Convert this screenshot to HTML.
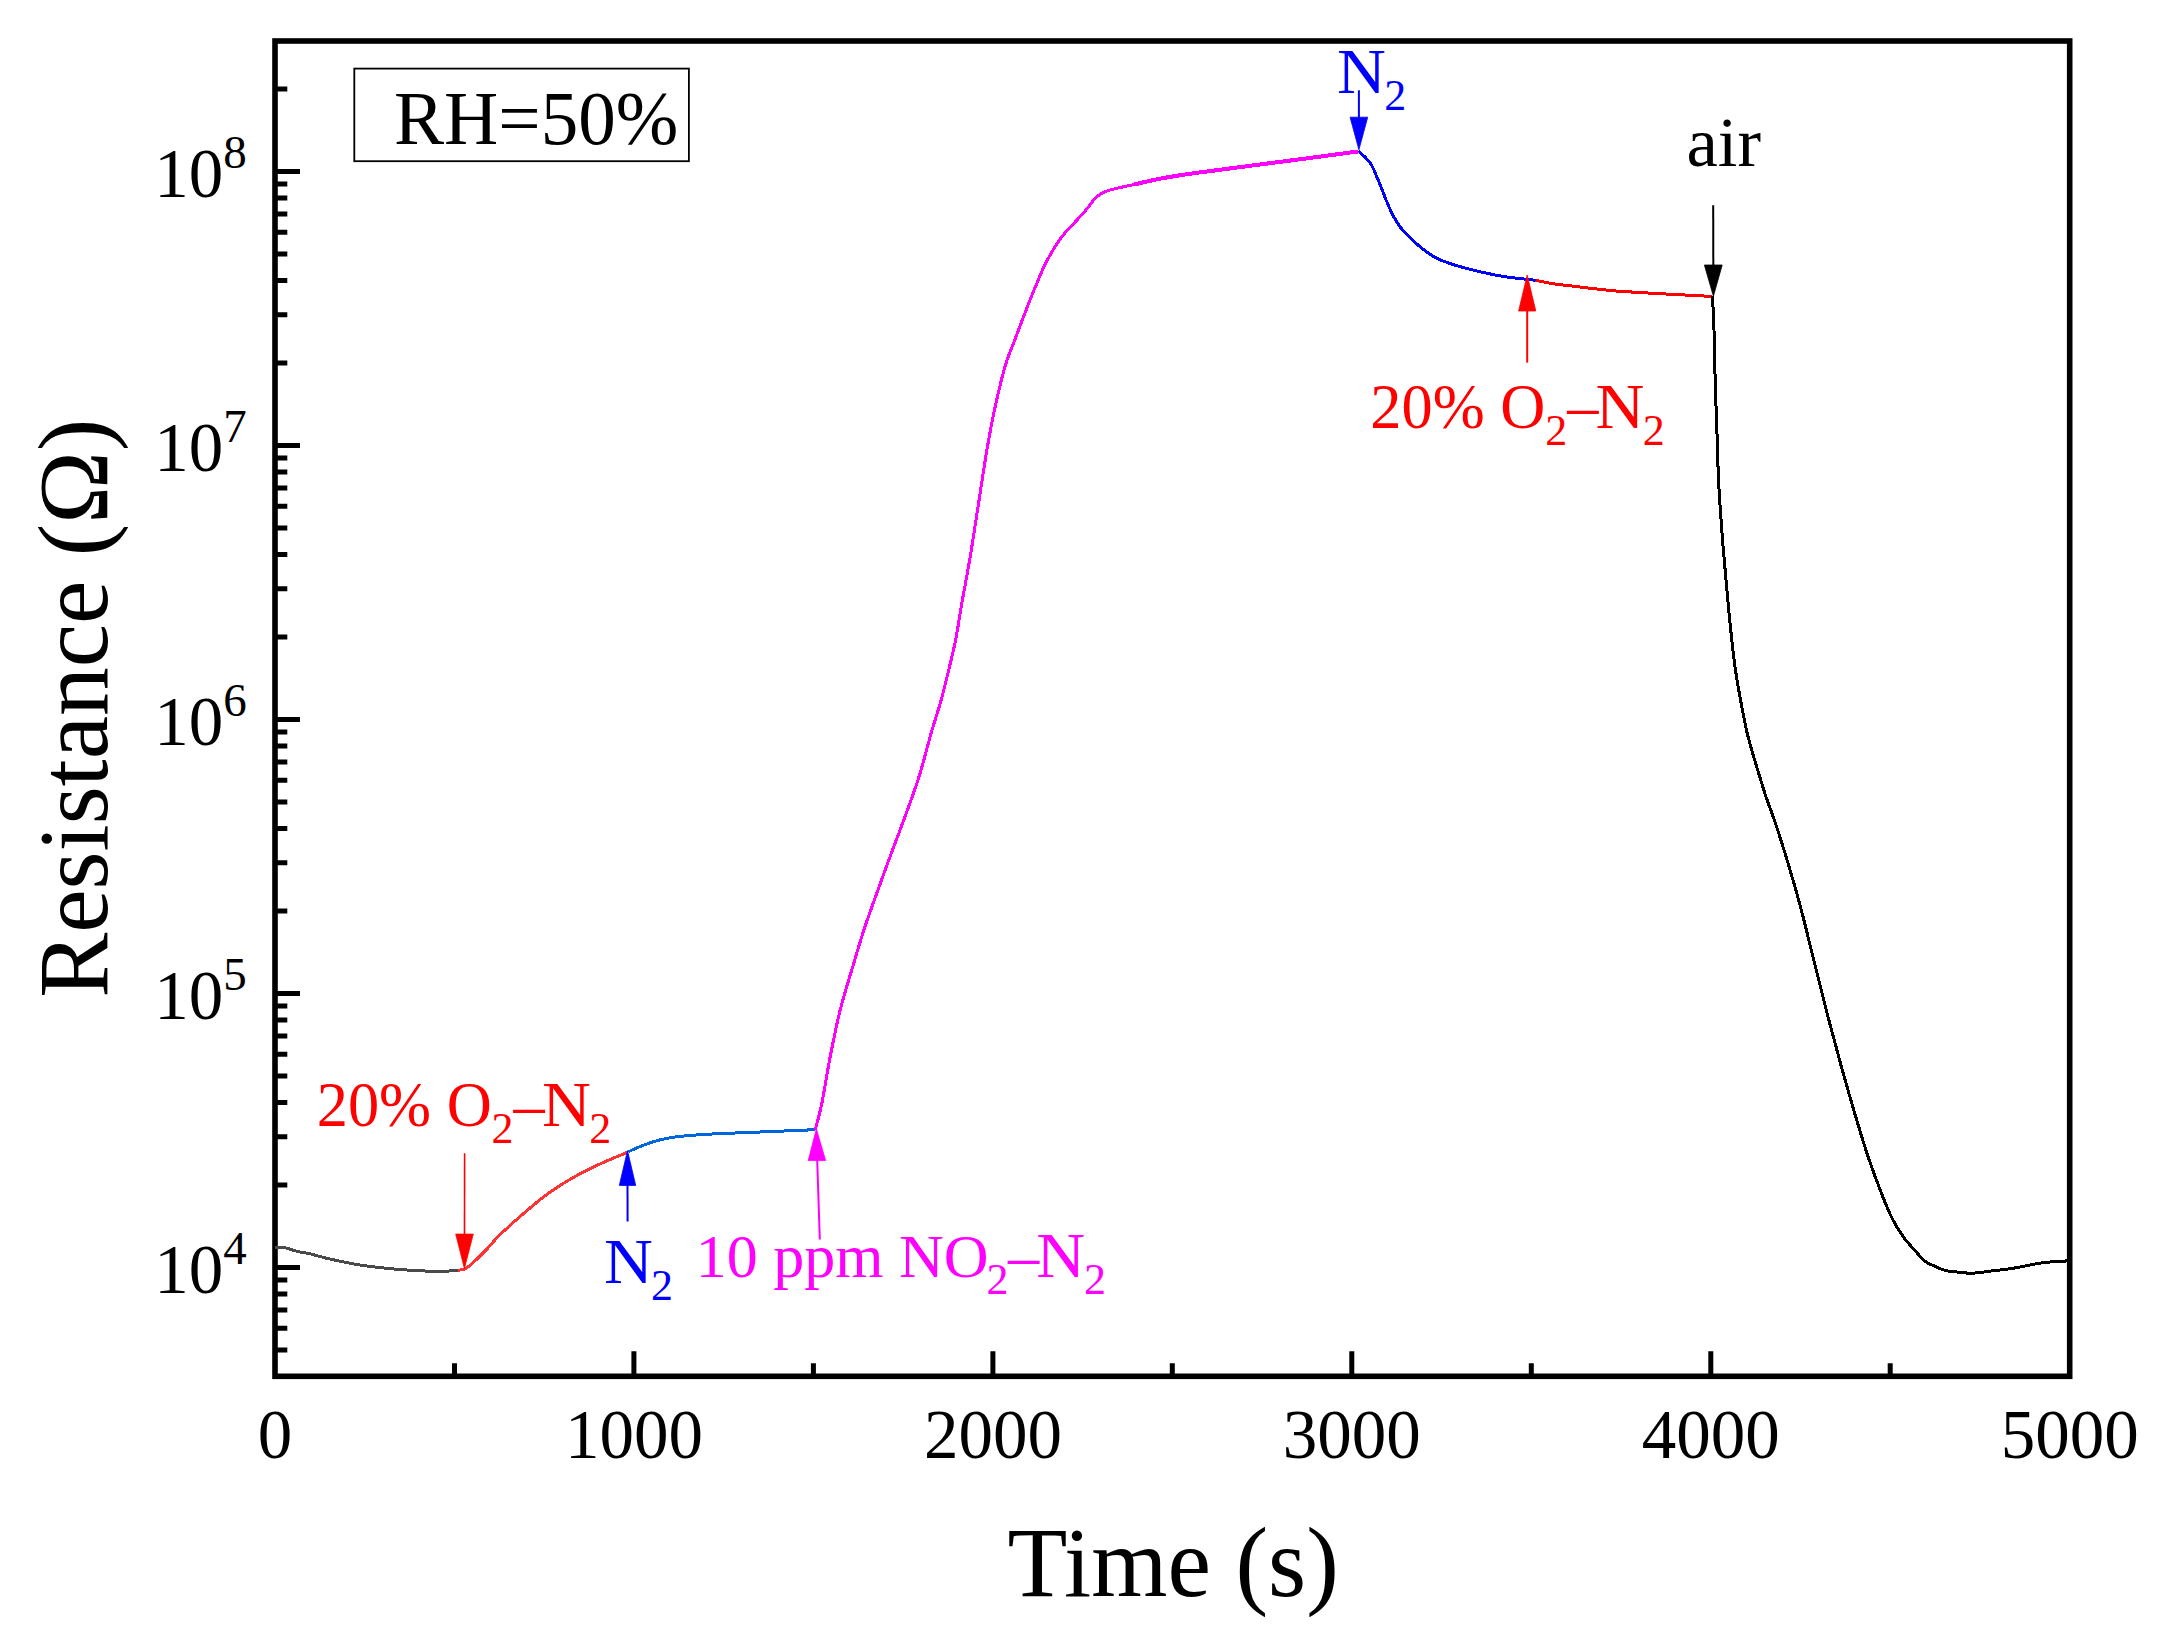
<!DOCTYPE html>
<html lang="en"><head><meta charset="utf-8"><title>Resistance vs Time</title>
<style>html,body{margin:0;padding:0;background:#fff}body{width:2161px;height:1640px;overflow:hidden}svg{display:block}text{font-family:"Liberation Serif","Times New Roman",serif}</style></head><body>
<svg width="2161" height="1640" viewBox="0 0 2161 1640">
<rect width="2161" height="1640" fill="#fff"/>
<rect x="275.0" y="41.0" width="1794.7" height="1335.3" fill="none" stroke="#000" stroke-width="5.6"/>
<path d="M275.0 1267.5H300M275.0 993.5H300M275.0 719.5H300M275.0 445.5H300M275.0 171.5H300M275.0 1350.0H287.3M275.0 1328.3H287.3M275.0 1309.9H287.3M275.0 1294.1H287.3M275.0 1280.0H287.3M275.0 1185.0H287.3M275.0 1136.8H287.3M275.0 1102.5H287.3M275.0 1076.0H287.3M275.0 1054.3H287.3M275.0 1035.9H287.3M275.0 1020.1H287.3M275.0 1006.0H287.3M275.0 911.0H287.3M275.0 862.8H287.3M275.0 828.5H287.3M275.0 802.0H287.3M275.0 780.3H287.3M275.0 761.9H287.3M275.0 746.1H287.3M275.0 732.0H287.3M275.0 637.0H287.3M275.0 588.8H287.3M275.0 554.5H287.3M275.0 528.0H287.3M275.0 506.3H287.3M275.0 487.9H287.3M275.0 472.1H287.3M275.0 458.0H287.3M275.0 363.0H287.3M275.0 314.8H287.3M275.0 280.5H287.3M275.0 254.0H287.3M275.0 232.3H287.3M275.0 213.9H287.3M275.0 198.1H287.3M275.0 184.0H287.3M275.0 89.0H287.3M454.5 1376.3V1363.3M633.9 1376.3V1351.3M813.4 1376.3V1363.3M992.9 1376.3V1351.3M1172.3 1376.3V1363.3M1351.8 1376.3V1351.3M1531.3 1376.3V1363.3M1710.8 1376.3V1351.3M1890.2 1376.3V1363.3" fill="none" stroke="#000" stroke-width="5"/>
<path d="M275.1 1247.4 C276.6 1247.4 280.2 1246.9 284.0 1247.6 C287.8 1248.3 293.4 1250.4 297.8 1251.5 C302.2 1252.6 306.1 1252.9 310.7 1254.0 C315.3 1255.1 320.0 1256.7 325.6 1258.0 C331.2 1259.3 337.9 1260.9 344.1 1262.1 C350.3 1263.3 356.4 1264.5 362.6 1265.4 C368.8 1266.3 374.9 1267.0 381.1 1267.7 C387.3 1268.4 393.4 1269.0 399.6 1269.5 C405.8 1270.0 411.9 1270.4 418.1 1270.7 C424.3 1271.0 432.2 1271.3 436.7 1271.5 C441.2 1271.7 442.7 1272.0 445.0 1271.8 C447.3 1271.6 448.5 1270.9 450.6 1270.6 C452.8 1270.3 456.7 1270.1 457.9 1270.0" fill="none" stroke="#4a4a4a" stroke-width="3" stroke-linejoin="round" stroke-linecap="butt" shape-rendering="crispEdges"/>
<path d="M457.9 1270.2 C458.6 1270.1 460.7 1270.0 462.0 1269.7 C463.3 1269.4 464.3 1269.1 465.6 1268.4 C466.9 1267.7 468.2 1267.0 470.0 1265.5 C471.8 1264.0 473.7 1262.2 476.6 1259.3 C479.5 1256.4 484.0 1252.1 487.6 1248.3 C491.2 1244.5 493.1 1241.5 498.5 1236.2 C503.9 1230.9 511.8 1223.7 520.0 1216.6 C528.2 1209.5 538.5 1200.5 547.7 1193.8 C556.9 1187.1 566.1 1181.5 575.4 1176.3 C584.6 1171.1 594.4 1166.5 603.2 1162.5 C612.0 1158.5 624.0 1153.8 628.2 1152.0" fill="none" stroke="#ff3333" stroke-width="3" stroke-linejoin="round" stroke-linecap="butt" shape-rendering="crispEdges"/>
<path d="M628.2 1151.8 C630.5 1150.8 636.9 1147.7 642.0 1145.8 C647.1 1143.9 652.7 1141.7 658.7 1140.2 C664.7 1138.7 668.9 1137.6 678.2 1136.6 C687.5 1135.5 701.3 1134.6 714.3 1133.9 C727.2 1133.2 739.1 1132.9 755.9 1132.2 C772.6 1131.5 805.0 1130.1 814.8 1129.7" fill="none" stroke="#0066dd" stroke-width="3" stroke-linejoin="round" stroke-linecap="butt" shape-rendering="crispEdges"/>
<path d="M815.2 1129.9 C816.3 1125.4 819.4 1115.3 821.9 1103.0 C824.4 1090.7 827.2 1071.8 830.3 1056.1 C833.4 1040.4 836.8 1023.6 840.4 1009.1 C844.0 994.6 848.2 982.0 852.1 968.9 C856.0 955.8 859.6 943.1 863.8 930.3 C868.0 917.4 872.8 904.4 877.3 891.8 C881.8 879.2 886.0 867.8 890.7 854.9 C895.5 842.0 901.0 827.7 905.8 814.6 C910.5 801.5 915.0 789.5 919.2 776.1 C923.4 762.7 927.3 746.7 930.9 734.1 C934.5 721.5 937.9 711.8 941.0 700.6 C944.1 689.4 947.0 677.2 949.4 667.1 C951.8 657.0 953.5 650.7 955.6 640.0 C957.7 629.3 959.5 617.0 961.9 603.0 C964.3 589.0 967.5 572.9 970.3 556.1 C973.1 539.3 975.9 520.3 978.7 502.4 C981.5 484.5 984.3 465.0 987.1 448.8 C989.9 432.6 992.4 419.2 995.5 405.2 C998.6 391.2 1002.2 376.0 1005.5 364.9 C1008.8 353.8 1012.1 347.2 1015.2 338.8 C1018.4 330.4 1021.3 322.5 1024.4 314.4 C1027.6 306.3 1030.8 297.9 1034.1 290.0 C1037.3 282.1 1040.9 273.3 1043.9 266.8 C1047.0 260.3 1049.4 256.1 1052.4 251.0 C1055.5 245.9 1058.7 240.8 1062.2 236.3 C1065.7 231.8 1069.3 228.4 1073.2 224.1 C1077.1 219.8 1081.8 215.0 1085.4 210.7 C1089.1 206.4 1092.3 201.4 1095.1 198.5 C1097.9 195.6 1099.6 194.5 1102.4 193.0 C1105.2 191.5 1106.9 190.8 1112.2 189.4 C1117.5 188.0 1126.4 186.2 1134.1 184.5 C1141.8 182.8 1150.4 180.6 1158.5 179.0 C1166.6 177.4 1176.1 175.9 1182.9 174.8 C1189.7 173.7 1187.3 174.1 1199.4 172.5 C1211.5 170.9 1234.9 167.8 1255.4 165.1 C1275.9 162.4 1305.2 158.6 1322.4 156.3 C1339.6 154.0 1352.5 152.2 1358.5 151.4" fill="none" stroke="#ff00ff" stroke-width="3" stroke-linejoin="round" stroke-linecap="butt" shape-rendering="crispEdges"/>
<path d="M1358.6 151.2 C1359.6 152.2 1362.8 154.8 1364.9 157.0 C1367.0 159.2 1369.2 161.1 1371.1 164.2 C1373.0 167.3 1374.6 171.6 1376.3 175.6 C1378.0 179.6 1379.8 183.8 1381.5 188.1 C1383.2 192.4 1385.0 197.4 1386.7 201.5 C1388.4 205.6 1390.1 209.4 1391.8 212.9 C1393.5 216.4 1395.3 219.5 1397.0 222.3 C1398.7 225.1 1399.6 226.6 1402.2 229.5 C1404.8 232.4 1409.1 236.6 1412.6 239.9 C1416.0 243.2 1418.8 246.1 1422.9 249.2 C1427.1 252.3 1432.3 256.0 1437.5 258.6 C1442.7 261.2 1447.8 262.8 1454.0 264.8 C1460.2 266.8 1466.8 268.6 1474.8 270.5 C1482.8 272.4 1493.0 274.7 1501.7 276.2 C1510.4 277.7 1521.4 278.7 1527.1 279.4 C1532.8 280.1 1534.2 280.1 1535.6 280.2" fill="none" stroke="#0000ff" stroke-width="3" stroke-linejoin="round" stroke-linecap="butt" shape-rendering="crispEdges"/>
<path d="M1535.6 280.2 C1538.4 280.8 1546.0 282.6 1552.4 283.6 C1558.8 284.6 1564.6 285.2 1574.2 286.3 C1583.8 287.4 1599.9 289.5 1610.3 290.5 C1620.7 291.5 1628.5 291.8 1636.5 292.3 C1644.5 292.8 1649.2 293.1 1658.5 293.6 C1667.8 294.1 1683.8 294.9 1692.6 295.4 C1701.4 295.9 1708.4 296.2 1711.6 296.4" fill="none" stroke="#ff0000" stroke-width="3" stroke-linejoin="round" stroke-linecap="butt" shape-rendering="crispEdges"/>
<path d="M1712.5 296.3 C1712.8 302.0 1713.5 316.2 1714.0 330.3 C1714.5 344.4 1714.7 363.8 1715.2 380.6 C1715.7 397.4 1716.3 414.1 1716.9 430.9 C1717.5 447.7 1717.8 464.4 1718.6 481.2 C1719.4 498.0 1720.8 516.4 1721.9 531.5 C1723.0 546.6 1724.2 558.9 1725.3 571.8 C1726.4 584.7 1727.5 597.0 1728.6 608.7 C1729.7 620.4 1730.9 632.2 1732.0 642.2 C1733.1 652.2 1733.9 659.5 1735.3 669.0 C1736.7 678.5 1738.4 688.6 1740.4 699.2 C1742.4 709.8 1744.6 722.1 1747.1 732.7 C1749.6 743.3 1752.7 753.4 1755.5 762.9 C1758.3 772.4 1761.9 783.6 1763.8 789.8 C1765.7 796.0 1765.1 794.4 1767.1 800.0 C1769.0 805.6 1772.2 813.4 1775.5 823.5 C1778.8 833.6 1783.0 846.4 1787.2 860.4 C1791.4 874.4 1796.1 890.5 1800.6 907.3 C1805.1 924.1 1809.5 943.1 1814.0 961.0 C1818.5 978.9 1822.9 997.3 1827.4 1014.6 C1831.9 1031.9 1836.4 1048.7 1840.9 1064.9 C1845.4 1081.1 1849.8 1096.8 1854.3 1111.9 C1858.8 1127.0 1863.2 1142.1 1867.7 1155.5 C1872.2 1168.9 1877.0 1181.9 1881.1 1192.4 C1885.2 1202.9 1888.4 1210.9 1892.1 1218.3 C1895.8 1225.7 1899.4 1231.4 1903.1 1236.6 C1906.8 1241.8 1910.3 1245.3 1914.0 1249.4 C1917.7 1253.5 1921.6 1258.5 1925.0 1261.3 C1928.4 1264.0 1930.9 1264.4 1934.2 1265.9 C1937.5 1267.4 1940.8 1269.3 1945.1 1270.4 C1949.4 1271.5 1955.2 1271.8 1959.8 1272.3 C1964.4 1272.8 1967.7 1273.4 1972.6 1273.2 C1977.5 1273.0 1982.6 1272.1 1989.0 1271.3 C1995.4 1270.5 2004.9 1269.5 2011.0 1268.6 C2017.1 1267.7 2020.4 1266.9 2025.6 1265.9 C2030.8 1264.9 2037.2 1263.5 2042.1 1262.8 C2047.0 1262.1 2050.7 1262.0 2054.9 1261.7 C2059.1 1261.4 2065.1 1261.0 2067.2 1260.9" fill="none" stroke="#000000" stroke-width="3" stroke-linejoin="round" stroke-linecap="butt" shape-rendering="crispEdges"/>
<path d="M1134.1 184.5 C1138.2 183.6 1150.4 180.6 1158.5 179.0 C1166.6 177.4 1176.1 175.9 1182.9 174.8 C1189.7 173.7 1187.3 174.1 1199.4 172.5 C1211.5 170.9 1234.9 167.8 1255.4 165.1 C1275.9 162.4 1305.2 158.6 1322.4 156.3 C1339.6 154.0 1352.5 152.2 1358.5 151.4" fill="none" stroke="#ff00ff" stroke-width="4" stroke-linecap="butt" shape-rendering="crispEdges"/>
<text x="275.0" y="1457.6" font-size="69" text-anchor="middle">0</text>
<text x="633.9" y="1457.6" font-size="69" text-anchor="middle">1000</text>
<text x="992.9" y="1457.6" font-size="69" text-anchor="middle">2000</text>
<text x="1351.8" y="1457.6" font-size="69" text-anchor="middle">3000</text>
<text x="1710.8" y="1457.6" font-size="69" text-anchor="middle">4000</text>
<text x="2069.7" y="1457.6" font-size="69" text-anchor="middle">5000</text>
<text x="154.3" y="1292.5" font-size="69">10<tspan font-size="47" dy="-28.1">4</tspan></text>
<text x="154.3" y="1018.5" font-size="69">10<tspan font-size="47" dy="-28.1">5</tspan></text>
<text x="154.3" y="744.5" font-size="69">10<tspan font-size="47" dy="-28.1">6</tspan></text>
<text x="154.3" y="470.5" font-size="69">10<tspan font-size="47" dy="-28.1">7</tspan></text>
<text x="154.3" y="196.5" font-size="69">10<tspan font-size="47" dy="-28.1">8</tspan></text>
<text transform="translate(1173.2 1595.5) scale(0.985 1)" font-size="99.5" text-anchor="middle">Time (s)</text>
<text transform="translate(106.6 708.3) rotate(-90) scale(0.9805 1)" font-size="99.5" text-anchor="middle">Resistance (Ω)</text>
<rect x="354.3" y="68.6" width="334.6" height="92.6" fill="#fff" stroke="#000" stroke-width="1.8"/>
<text transform="translate(394 144) scale(0.988 1)" font-size="76">RH=50%</text>
<path d="M464.6 1153.3L464.5 1235.1" stroke="#ff0000" stroke-width="1.6" fill="none"/><path d="M464.4 1268.6L455.7 1234.1L473.3 1234.1Z" fill="#ff0000" stroke="#ff0000" stroke-width="0.8" stroke-linejoin="miter"/>
<path d="M627.6 1221.6L627.5 1184.4" stroke="#0000ff" stroke-width="2" fill="none"/><path d="M627.5 1150.6L635.7 1185.4L619.3 1185.4Z" fill="#0000ff" stroke="#0000ff" stroke-width="0.8" stroke-linejoin="miter"/>
<path d="M819.8 1239.5L817.2 1160" stroke="#ff00ff" stroke-width="2" fill="none"/><path d="M816.4 1128.8L825.6 1160.6L808.2 1160.6Z" fill="#ff00ff" stroke="#ff00ff" stroke-width="0.8"/>
<path d="M1358.9 90.3L1358.9 118.2" stroke="#0000ff" stroke-width="2" fill="none"/><path d="M1358.9 149.8L1350.1 117.2L1367.7 117.2Z" fill="#0000ff" stroke="#0000ff" stroke-width="0.8" stroke-linejoin="miter"/>
<path d="M1527.2 362.6L1527.2 310.0" stroke="#ff0000" stroke-width="2" fill="none"/><path d="M1527.2 275.0L1535.8 311.0L1518.6 311.0Z" fill="#ff0000" stroke="#ff0000" stroke-width="0.8" stroke-linejoin="miter"/>
<path d="M1713.2 205.2L1713.3 266.0" stroke="#000000" stroke-width="2" fill="none"/><path d="M1713.4 296.3L1704.4 265.0L1722.2 265.0Z" fill="#000000" stroke="#000000" stroke-width="0.8" stroke-linejoin="miter"/>
<text fill="#ff0000"><tspan x="316.7" y="1125.8" font-size="62.4">20% O</tspan><tspan x="491.6" y="1143.1" font-size="44">2</tspan><tspan x="513.6" y="1125.5" font-size="62.4">–</tspan><tspan x="542.0" y="1125.8" font-size="62.4" textLength="48.89" lengthAdjust="spacingAndGlyphs">N</tspan><tspan x="589.2" y="1143.1" font-size="44">2</tspan></text>
<text fill="#ff0000"><tspan x="1370.3" y="427.6" font-size="62.4">20% O</tspan><tspan x="1545.2" y="444.9" font-size="44">2</tspan><tspan x="1567.2" y="427.3" font-size="62.4">–</tspan><tspan x="1595.6" y="427.6" font-size="62.4" textLength="48.89" lengthAdjust="spacingAndGlyphs">N</tspan><tspan x="1642.8" y="444.9" font-size="44">2</tspan></text>
<text fill="#ff00ff"><tspan x="695.8" y="1276.8" font-size="62">10 ppm NO</tspan><tspan x="986.4" y="1294.0" font-size="44">2</tspan><tspan x="1008.1" y="1276.5" font-size="62.4">–</tspan><tspan x="1036.3" y="1276.8" font-size="62.4" textLength="48.89" lengthAdjust="spacingAndGlyphs">N</tspan><tspan x="1084.1" y="1294.0" font-size="44">2</tspan></text>
<text fill="#0000ff"><tspan x="603.9" y="1282.8" font-size="62.4" textLength="48.89" lengthAdjust="spacingAndGlyphs">N</tspan><tspan x="651.1" y="1299.9" font-size="44">2</tspan></text>
<text fill="#0000ff"><tspan x="1337.1" y="92.9" font-size="62.4" textLength="48.89" lengthAdjust="spacingAndGlyphs">N</tspan><tspan x="1384.3" y="109.9" font-size="44">2</tspan></text>
<text x="1686.4" y="166.3" font-size="70.7">air</text>
</svg></body></html>
